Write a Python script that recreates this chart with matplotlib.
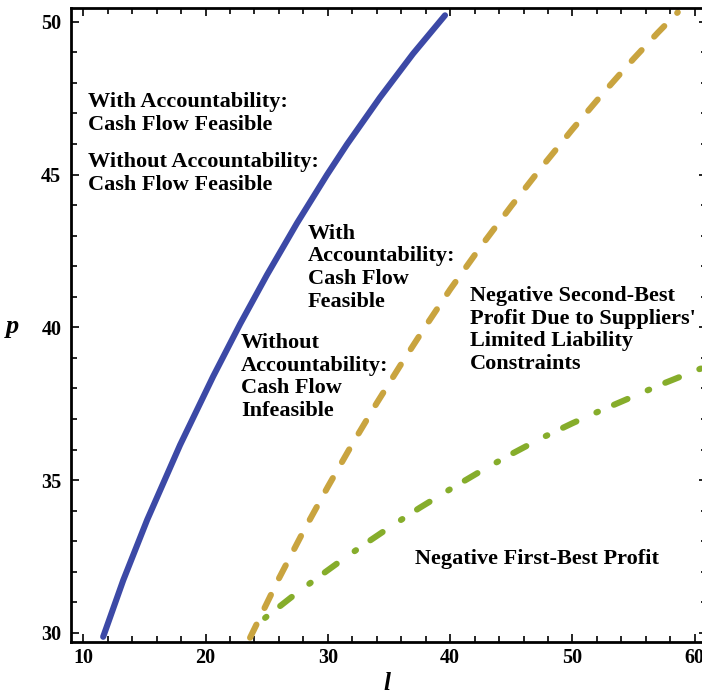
import matplotlib
matplotlib.use('Agg')
import matplotlib.pyplot as plt
from matplotlib.ticker import MultipleLocator

plt.rcParams['font.family'] = ['Liberation Serif', 'DejaVu Serif']
plt.rcParams['font.weight'] = 'bold'
plt.rcParams['lines.scale_dashes'] = False

# boundary curves in the (l, p) plane
blue_l = [11.63, 13.27, 15.23, 17.92, 20.62, 22.83, 25.03, 27.48, 29.93, 31.57, 34.26, 36.96, 39.58]
blue_p = [29.87, 31.72, 33.70, 36.15, 38.39, 40.11, 41.72, 43.41, 44.99, 45.99, 47.52, 48.95, 50.21]

gold_l = [23.64, 26, 28, 30, 32, 34, 36, 38, 40, 42.5, 45, 47.5, 50, 52.5, 55, 57, 58.61]
gold_p = [29.84, 31.78, 33.32, 34.78, 36.18, 37.52, 38.80, 40.04, 41.24, 42.64, 43.97, 45.25,
          46.48, 47.66, 48.79, 49.65, 50.31]

green_l = [24.87, 27, 29, 31, 33, 35, 37.5, 40, 42.5, 45, 47.5, 50, 52.5, 55, 57.5, 61]
green_p = [30.49, 31.16, 31.76, 32.34, 32.90, 33.44, 34.09, 34.70, 35.29, 35.85, 36.38, 36.86,
           37.31, 37.74, 38.17, 38.73]

# region labels: (l, p, text), p is the middle of the text block
labels = [
    (10.41, 46.99, "With Accountability:\nCash Flow Feasible"),
    (10.41, 45.04, "Without Accountability:\nCash Flow Feasible"),
    (28.38, 41.95, "With\nAccountability:\nCash Flow\nFeasible"),
    (22.91, 38.37, "Without\nAccountability:\nCash Flow\nInfeasible"),
    (41.62, 39.91, "Negative Second-Best\nProfit Due to Suppliers'\nLimited Liability\nConstraints"),
    (37.12, 32.42, "Negative First-Best Profit"),
]

W, H = 702, 694
fig = plt.figure(figsize=(W / 100, H / 100), dpi=100)
ax = fig.add_axes([71 / W, (H - 642.3) / H, (707 - 71) / W, (642.3 - 8.3) / H])

lw = 4.4
ax.plot(blue_l, blue_p, color='#3c49a6', lw=lw, solid_capstyle='round',
        solid_joinstyle='round')
ax.plot(gold_l, gold_p, color='#c9a43f', lw=lw, dash_capstyle='round',
        dash_joinstyle='round', linestyle=(0, (10.5, 13.3)))
ax.plot(green_l, green_p, color='#86ad2b', lw=lw, dash_capstyle='round',
        dash_joinstyle='round', linestyle=(0, (1.2, 12.6, 10.6, 15.8)))

for x, y, s in labels:
    ax.text(x, y, s, fontsize=16, fontweight='bold', ha='left', va='center',
            linespacing=1.18)

ax.set_xlim(9, 61)
ax.set_ylim(29.69, 50.44)

ax.xaxis.set_major_locator(MultipleLocator(10))
ax.xaxis.set_minor_locator(MultipleLocator(2))
ax.yaxis.set_major_locator(MultipleLocator(5))
ax.yaxis.set_minor_locator(MultipleLocator(1))
ax.tick_params(which='both', direction='in', top=True, right=True, width=1.2,
               labelsize=14.5)
ax.tick_params(which='major', length=6)
ax.tick_params(which='minor', length=4)
ax.tick_params(axis='y', pad=7)
ax.tick_params(axis='x', pad=4)
for lab in ax.get_xticklabels() + ax.get_yticklabels():
    lab.set_fontweight('bold')
for sp in ax.spines.values():
    sp.set_linewidth(2.0)

fig.text(12 / W, 1 - 326 / H, 'p', fontsize=19, fontstyle='italic', fontweight='bold',
         ha='center', va='center')
fig.text(387 / W, 1 - 683 / H, 'l', fontsize=18, fontstyle='italic', fontweight='bold',
         ha='center', va='center')

fig.savefig('out.png', dpi=100)
